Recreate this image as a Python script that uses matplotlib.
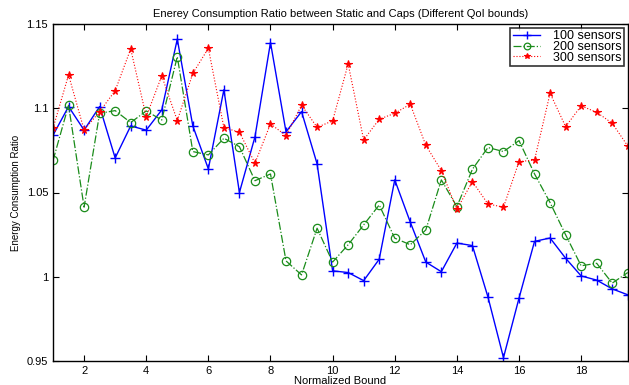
import numpy as np
import matplotlib
matplotlib.use("Agg")
import matplotlib.pyplot as plt

plt.rcParams['font.family'] = ['Liberation Sans', 'DejaVu Sans']

bounds = [1 + 0.5 * i for i in range(38)]

s100 = [1.084, 1.101, 1.087, 1.101, 1.0705, 1.0895, 1.087, 1.099, 1.141, 1.0895,
        1.064, 1.111, 1.050, 1.083, 1.139, 1.086, 1.098, 1.067, 1.0035, 1.0025,
        0.9977, 1.0104, 1.0575, 1.0324, 1.0087, 1.003, 1.020, 1.0185, 0.988, 0.952,
        0.9873, 1.021, 1.023, 1.011, 1.0005, 0.998, 0.9928, 0.9893]

s200 = [1.069, 1.1018, 1.0413, 1.097, 1.0986, 1.0915, 1.0984, 1.093, 1.1306, 1.0743,
        1.0723, 1.0822, 1.0772, 1.057, 1.061, 1.0094, 1.0011, 1.0288, 1.0087, 1.019,
        1.0308, 1.0426, 1.0229, 1.019, 1.0278, 1.0575, 1.0416, 1.0638, 1.0767, 1.0743,
        1.0808, 1.061, 1.044, 1.0249, 1.0065, 1.008, 0.9962, 1.0025]

s300 = [1.0881, 1.1198, 1.0871, 1.098, 1.1104, 1.1352, 1.095, 1.1192, 1.0927, 1.1207,
        1.1356, 1.0885, 1.0858, 1.0674, 1.0907, 1.0838, 1.1018, 1.0887, 1.0925, 1.1263,
        1.0812, 1.0935, 1.097, 1.1024, 1.078, 1.063, 1.040, 1.0565, 1.0432, 1.0413,
        1.0683, 1.0693, 1.1089, 1.0891, 1.1014, 1.0976, 1.0911, 1.0776]

labels = ['100 sensors', '200 sensors', '300 sensors']

fig = plt.figure(figsize=(6.29, 3.85), dpi=100)
ax = fig.add_axes([0.0843, 0.0623, 0.9137, 0.8754])

ax.plot(bounds, s100, color='#0000ff', linestyle='-', marker='+', markersize=7,
        markeredgewidth=1.0, linewidth=1.0, label=labels[0])
ax.plot(bounds, s200, color='#1a8c1a', linestyle='-.', marker='o', markersize=6,
        markerfacecolor='none', markeredgewidth=0.9, linewidth=0.9, label=labels[1])
ax.plot(bounds, s300, color='#ff0000', linestyle=':', marker='*', markersize=5.5,
        markeredgewidth=0.8, linewidth=0.8, label=labels[2])

ax.set_xlim(1, 19.5)
ax.set_ylim(0.95, 1.15)
ax.set_xticks([2, 4, 6, 8, 10, 12, 14, 16, 18])
ax.set_yticks([0.95, 1.0, 1.05, 1.1, 1.15])
ax.set_yticklabels(['0.95', '1', '1.05', '1.1', '1.15'])
ax.tick_params(direction='in', top=True, right=True, labelsize=8, length=4, width=0.8)
for sp in ax.spines.values():
    sp.set_linewidth(1.0)

ax.set_title('Enerey Consumption Ratio between Static and Caps (Different QoI bounds)',
             fontsize=8, pad=5)
ax.set_xlabel('Normalized Bound', fontsize=8, labelpad=0)
ax.set_ylabel('Energy Consumption Ratio', fontsize=7, labelpad=4)

leg = ax.legend(loc='upper right', fontsize=9, frameon=True, fancybox=False,
                borderpad=0.2, labelspacing=-0.1, handlelength=2.2,
                handletextpad=1.0, borderaxespad=0.3, markerscale=0.8)
leg.get_frame().set_edgecolor('black')
leg.get_frame().set_linewidth(1.2)

fig.savefig('out.png', dpi=100)
